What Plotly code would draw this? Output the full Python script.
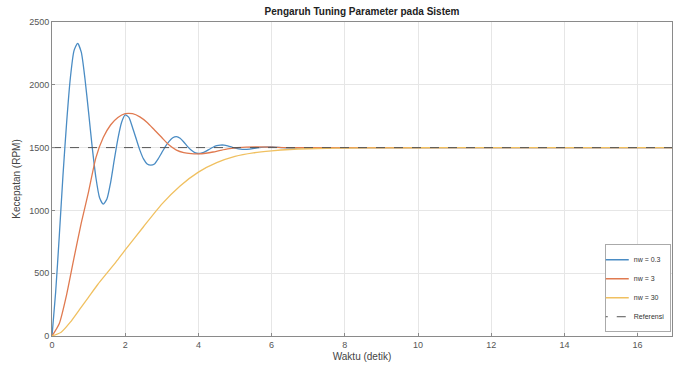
import plotly.graph_objects as go

# ---- data ----
t_a = [0, 0.1, 0.2, 0.3, 0.4, 0.5, 0.6, 0.7, 0.8, 0.9, 1.0, 1.1, 1.2, 1.3, 1.4, 1.5,
       1.6, 1.7, 1.8, 1.9, 2.0, 2.1, 2.2, 2.3, 2.4, 2.5, 2.6, 2.7, 2.8, 2.9, 3.0,
       3.1, 3.2, 3.3, 3.4, 3.5, 3.6, 3.7, 3.8, 3.9, 4.0, 4.1, 4.2, 4.3, 4.4, 4.5,
       4.6, 4.7, 4.8, 4.9, 5.0, 5.2, 5.4, 5.6, 5.8, 6.0, 6.3, 6.6, 7.0, 8.0, 17.0]
v_a = [0, 350, 800, 1280, 1700, 2050, 2270, 2330, 2260, 2050, 1780, 1500, 1260, 1100, 1050, 1090,
       1220, 1400, 1570, 1700, 1760, 1740, 1660, 1570, 1480, 1410, 1370, 1360, 1370, 1410, 1460,
       1510, 1550, 1578, 1587, 1575, 1545, 1510, 1480, 1460, 1453, 1458, 1470, 1487, 1503, 1515,
       1520, 1520, 1514, 1505, 1495, 1486, 1488, 1497, 1504, 1506, 1500, 1496, 1499, 1500, 1500]

t_b = [0, 0.2, 0.4, 0.6, 0.8, 1.0, 1.2, 1.4, 1.6, 1.8, 2.0, 2.2, 2.4, 2.6, 2.8, 3.0,
       3.2, 3.4, 3.6, 3.8, 4.0, 4.2, 4.4, 4.6, 4.8, 5.0, 5.3, 5.6, 6.0, 6.5, 17.0]
v_b = [0, 100, 330, 620, 900, 1150, 1420, 1580, 1680, 1740, 1770, 1770, 1745, 1700, 1640, 1580,
       1520, 1480, 1460, 1452, 1450, 1455, 1465, 1478, 1490, 1498, 1503, 1505, 1503, 1500, 1500]

t_c = [0, 0.25, 0.5, 0.75, 1.0, 1.25, 1.5, 1.75, 2.0, 2.5, 3.0, 3.5, 4.0, 4.5, 5.0,
       5.5, 6.0, 6.5, 7.0, 7.5, 8.0, 9.0, 10.0, 12.0, 17.0]
v_c = [0, 30, 110, 210, 310, 410, 500, 590, 685, 870, 1050, 1195, 1305, 1380, 1430,
       1458, 1474, 1485, 1491, 1494, 1496, 1498, 1499, 1500, 1500]

t_ref = [0, 17]
v_ref = [1500, 1500]

names = ["nw = 0.3", "nw = 3", "nw = 30", "Referensi"]
colors = ["#4a8cc4", "#e07a50", "#f0c060", "#555555"]
x_ticks = [0, 2, 4, 6, 8, 10, 12, 14, 16]
y_ticks = [0, 500, 1000, 1500, 2000, 2500]

fig = go.Figure()
for t, v, n, c in zip([t_a, t_b, t_c], [v_a, v_b, v_c], names[:3], colors[:3]):
    fig.add_trace(go.Scatter(x=t, y=v, mode="lines", name=n,
                             line=dict(color=c, width=1.3, shape="spline", smoothing=0.6)))
fig.add_trace(go.Scatter(x=t_ref, y=v_ref, mode="lines", name=names[3],
                         line=dict(color=colors[3], width=1, dash="dash")))

axis_common = dict(showgrid=True, gridcolor="#e6e6e6", gridwidth=1, zeroline=False,
                   showline=True, linecolor="#8a8a8a", linewidth=1, mirror=True,
                   ticks="inside", ticklen=3, tickcolor="#8a8a8a",
                   tickfont=dict(family="Liberation Sans", size=9, color="#555555"))

fig.update_layout(
    width=675, height=370,
    margin=dict(l=52, r=3, t=22, b=34),
    paper_bgcolor="white", plot_bgcolor="white",
    title=dict(text="<b>Pengaruh Tuning Parameter pada Sistem</b>",
               font=dict(family="Liberation Sans", size=10, color="#222222"),
               x=0.5, xanchor="center", xref="paper", y=1, yref="container",
               yanchor="top", pad=dict(t=8)),
    xaxis=dict(range=[0, 16.94], tickvals=x_ticks,
               title=dict(text="Waktu (detik)", standoff=4,
                          font=dict(family="Liberation Sans", size=10, color="#444444")),
               **axis_common),
    yaxis=dict(range=[0, 2500], tickvals=y_ticks,
               title=dict(text="Kecepatan (RPM)", standoff=6,
                          font=dict(family="Liberation Sans", size=10, color="#444444")),
               **axis_common),
    legend=dict(x=0.998, y=0.012, xanchor="right", yanchor="bottom",
                bgcolor="white", bordercolor="#aaaaaa", borderwidth=1,
                font=dict(family="Liberation Sans", size=7, color="#333333"),
                tracegroupgap=0, itemwidth=30, entrywidth=0,
                indentation=-12),
    showlegend=True,
)

fig.write_html("out.html")
